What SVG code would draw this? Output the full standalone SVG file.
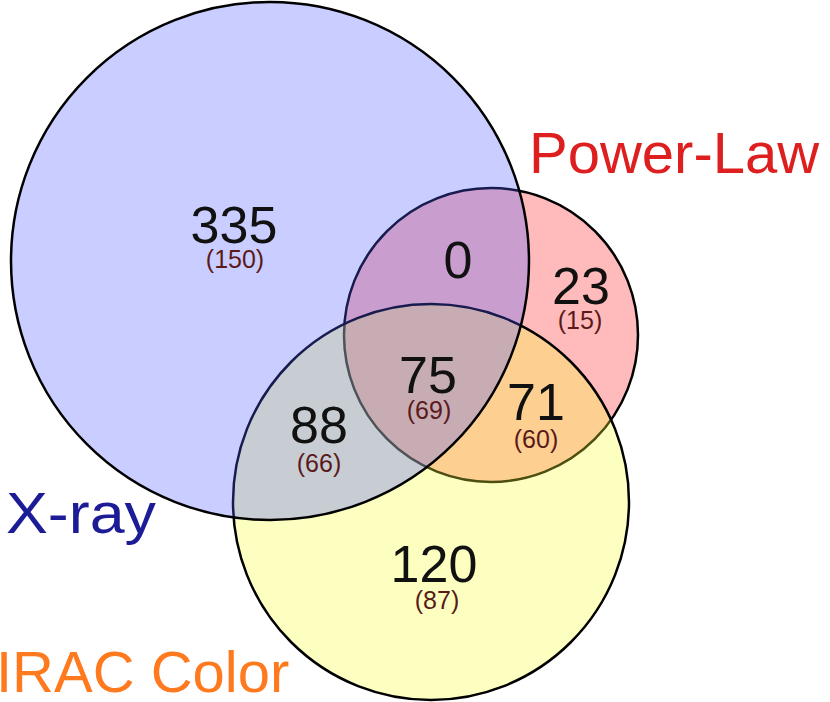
<svg xmlns="http://www.w3.org/2000/svg" width="830" height="702" viewBox="0 0 830 702">
  <style>
    .ring { stroke: #000; stroke-width: 2.5; }
    .num { font-family: "Liberation Sans", Arial, sans-serif; font-size: 52px; fill: #111; text-anchor: middle; }
    .sub { font-family: "Liberation Sans", Arial, sans-serif; font-size: 25px; fill: #5a1a1a; text-anchor: middle; }
    .lbl { font-family: "Liberation Sans", Arial, sans-serif; font-size: 58px; }
  </style>
  <rect width="830" height="702" fill="#ffffff"/>
  <g id="powerlaw">
    <circle class="ring" cx="491" cy="335" r="147" fill="#ffbbbb"/>
    <text class="lbl" x="529" y="173" fill="#dd1f1f">Power-Law</text>
  </g>
  <g id="irac">
    <circle class="ring" cx="431" cy="502" r="198" fill="#f8ff38" fill-opacity="0.31"/>
    <text class="lbl" x="-4" y="692" fill="#ff7a1e">IRAC Color</text>
  </g>
  <g id="xray">
    <circle class="ring" cx="270" cy="261" r="259" fill="#5058ff" fill-opacity="0.3"/>
    <text class="lbl" x="6" y="533" fill="#1c1c96" textLength="150" lengthAdjust="spacingAndGlyphs">X-ray</text>
  </g>
  <g id="region-xray-only">
    <text class="num" x="234" y="243">335</text>
    <text class="sub" x="235" y="268">(150)</text>
  </g>
  <g id="region-xray-powerlaw">
    <text class="num" x="458" y="278">0</text>
  </g>
  <g id="region-powerlaw-only">
    <text class="num" x="581" y="304">23</text>
    <text class="sub" x="580" y="329">(15)</text>
  </g>
  <g id="region-all">
    <text class="num" x="428" y="393">75</text>
    <text class="sub" x="429" y="419">(69)</text>
  </g>
  <g id="region-xray-irac">
    <text class="num" x="319" y="443">88</text>
    <text class="sub" x="319" y="472">(66)</text>
  </g>
  <g id="region-powerlaw-irac">
    <text class="num" x="536" y="420">71</text>
    <text class="sub" x="536" y="448">(60)</text>
  </g>
  <g id="region-irac-only">
    <text class="num" x="434" y="582">120</text>
    <text class="sub" x="437" y="609">(87)</text>
  </g>
  <g id="connectors"/>
</svg>
